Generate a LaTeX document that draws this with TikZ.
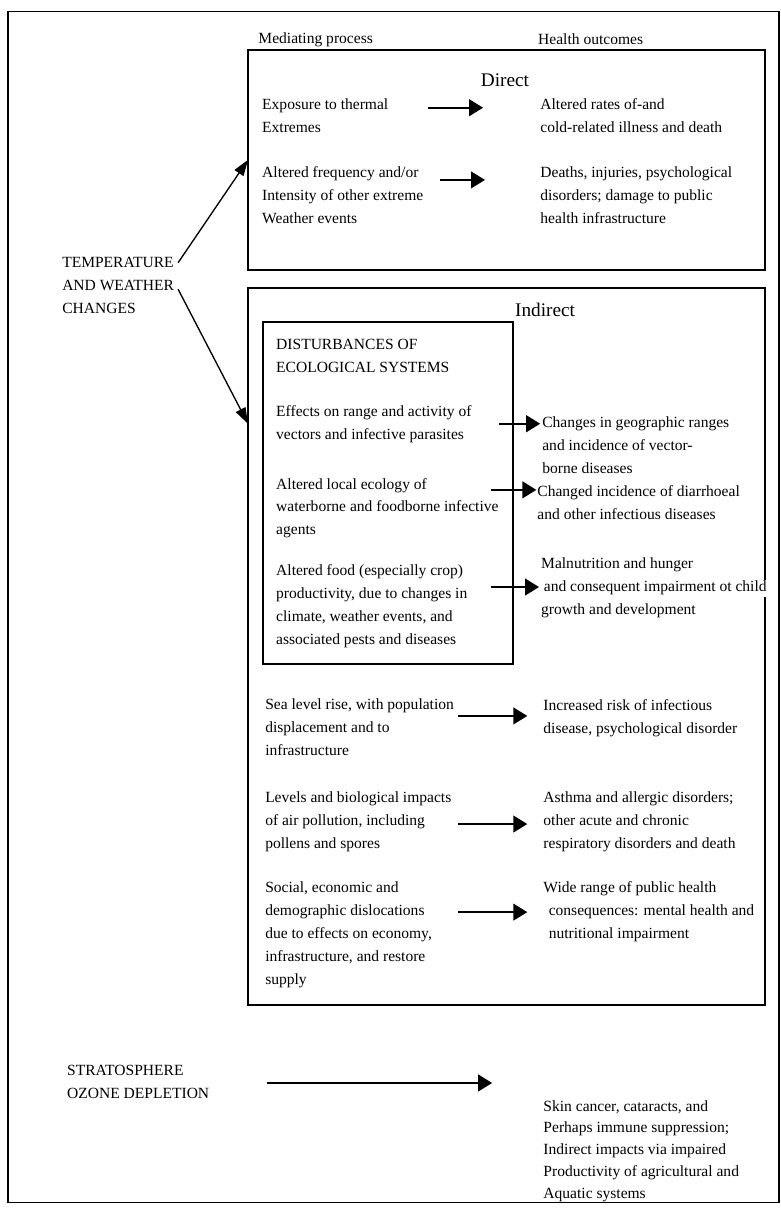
\documentclass[tikz,border=0pt]{standalone}
\usepackage{fontspec}
\setmainfont{Liberation Serif}
\usetikzlibrary{arrows.meta}
\setlength{\fboxsep}{1pt}

\begin{document}
\begin{tikzpicture}[
  txt/.style={anchor=north west, align=left, inner sep=0pt, font=\fontsize{11.7}{17.3}\selectfont},
  head/.style={inner sep=0pt, font=\fontsize{14.5}{17}\selectfont},
  box/.style={draw, line width=1.2pt, anchor=north west, inner sep=0pt, outer sep=0pt},
  flow/.style={line width=1.6pt, -{Triangle[length=10.5pt,width=12.5pt]}},
  slant/.style={line width=1pt, -{Triangle[length=12pt,width=8pt]}}
]
\useasboundingbox (0,0) rectangle (20.66,32.01);
\draw[line width=1pt] (0.21,0.19) rectangle (20.61,31.70);

% column heads
\node[txt, anchor=west] (med) at (6.83,30.96) {Mediating process};
\node[txt, anchor=west] (hlth) at (14.23,30.96) {Health outcomes};

% direct
\node[box, minimum width=13.68cm, minimum height=5.82cm] (dir) at (6.56,30.69) {};
\node[head] (dirT) at (13.36,29.90) {Direct};
\node[txt] (exp) at (6.93,29.40) {Exposure to thermal\\Extremes};
\node[txt] (rates) at (14.29,29.40) {Altered rates of-and\\cold-related illness and death};
\node[txt] (freq) at (6.93,27.60) {Altered frequency and/or\\Intensity of other extreme\\Weather events};
\node[txt] (deaths) at (14.29,27.60) {Deaths, injuries, psychological\\disorders; damage to public\\health infrastructure};

% indirect
\node[box, minimum width=13.68cm, minimum height=18.97cm] (ind) at (6.56,24.39) {};
\node[head] (indT) at (14.42,23.81) {Indirect};
\node[box, minimum width=6.61cm, minimum height=9.04cm] (eco) at (6.96,23.49) {};
\node[txt] (dist) at (7.30,23.05) {DISTURBANCES OF\\ECOLOGICAL SYSTEMS};
\node[txt] (eff) at (7.30,21.30) {Effects on range and activity of\\vectors and infective parasites};
\node[txt] (geo) at (14.34,20.98) {Changes in geographic ranges\\and incidence of vector-\\borne diseases};
\node[txt] (loc) at (7.30,19.37) {Altered local ecology of\\waterborne and foodborne infective\\agents};
\node[txt] (diar) at (14.21,19.18) {Changed incidence of diarrhoeal\\and other infectious diseases};
\node[txt] (food) at (7.30,17.07) {Altered food (especially crop)\\productivity, due to changes in\\climate, weather events, and\\associated pests and diseases};
\node[txt] (maln) at (14.31,17.25) {Malnutrition and hunger\\\hspace*{1pt}\colorbox{white}{and consequent impairment ot child}\\growth and development};
\node[txt] (sea) at (7.01,13.52) {Sea level rise, with population\\displacement and to\\infrastructure};
\node[txt] (risk) at (14.37,13.52) {Increased risk of infectious\\disease, psychological disorder};
\node[txt] (air) at (7.01,11.07) {Levels and biological impacts\\of air pollution, including\\pollens and spores};
\node[txt] (asth) at (14.37,11.07) {Asthma and allergic disorders;\\other acute and chronic\\respiratory disorders and death};
\node[txt] (soc) at (7.01,8.69) {Social, economic and\\demographic dislocations\\due to effects on economy,\\infrastructure, and restore\\supply};
\node[txt] (wide) at (14.37,8.69) {Wide range of public health\\\hspace*{4pt}consequences: mental health and\\\hspace*{4pt}nutritional impairment};

% causes
\node[txt] (temp) at (1.64,25.21) {TEMPERATURE\\AND WEATHER\\CHANGES};
\node[txt] (strat) at (1.77,3.84) {STRATOSPHERE\\OZONE DEPLETION};
\node[txt, font=\fontsize{11.7}{16.4}\selectfont] (skin) at (14.37,2.91) {Skin cancer, cataracts, and\\Perhaps immune suppression;\\Indirect impacts via impaired\\Productivity of agricultural and\\Aquatic systems};

% arrows
\draw[slant] ([shift={(0.1,-0.15)}]temp.north east) -- (dir.west);
\draw[slant] ([shift={(0.1,-0.1)}]temp.east) -- (ind.west |- eff.west);

\coordinate (a1) at (11.32,29.16);
\coordinate (a2) at (11.64,27.25);
\coordinate (a3) at (13.20,20.80);
\coordinate (a4) at (13.00,19.05);
\coordinate (a5) at (13.00,16.48);
\coordinate (a6) at (12.12,13.07);
\coordinate (a7) at (12.12,10.21);
\coordinate (a8) at (12.12,7.88);
\coordinate (a9) at (7.06,3.36);
\draw[flow, shorten >=1.51cm] (a1) -- (a1 -| rates.west);
\draw[flow, shorten >=1.46cm] (a2) -- (a2 -| deaths.west);
\draw[flow, shorten >=0.05cm] (a3) -- (a3 -| geo.west);
\draw[flow, shorten >=0.02cm] (a4) -- (a4 -| diar.west);
\draw[flow, shorten >=0.05cm] (a5) -- (a5 -| maln.west);
\draw[flow, shorten >=0.42cm] (a6) -- (a6 -| risk.west);
\draw[flow, shorten >=0.42cm] (a7) -- (a7 -| asth.west);
\draw[flow, shorten >=0.42cm] (a8) -- (a8 -| wide.west);
\draw[flow, shorten >=1.35cm] (a9) -- (a9 -| skin.west);
\end{tikzpicture}
\end{document}
